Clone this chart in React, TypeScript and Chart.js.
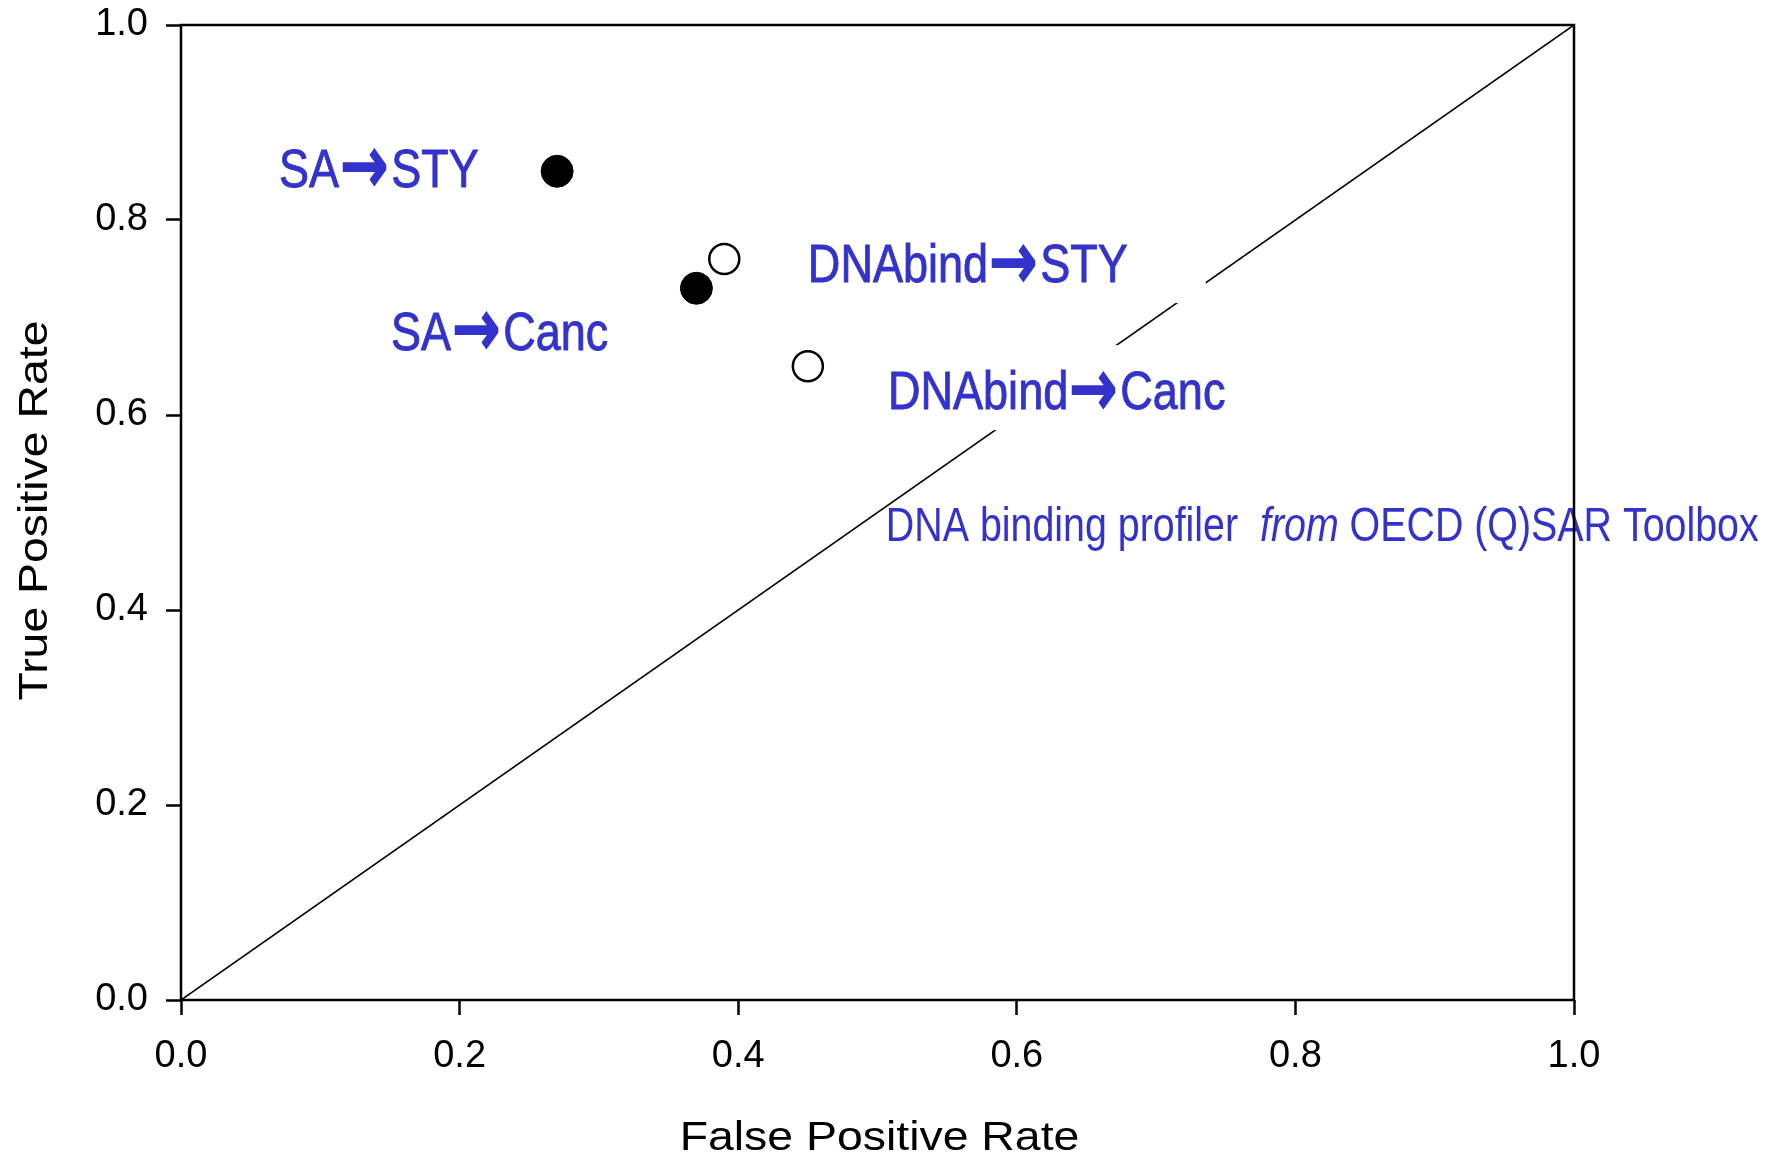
import React, { useEffect, useRef } from "react";
import { Chart, registerables } from "chart.js";

Chart.register(...registerables);

// ---- data ----
const filledFPR = [0.27, 0.37];
const filledTPR = [0.85, 0.73];
const openFPR = [0.39, 0.45];
const openTPR = [0.76, 0.65];
const diagonalX = [0, 1];
const diagonalY = [0, 1];
const tickValues = [0, 0.2, 0.4, 0.6, 0.8, 1.0];

const labelTexts = ["SA→STY", "SA→Canc", "DNAbind→STY", "DNAbind→Canc"];
const labelX = [0.0704, 0.1508, 0.45, 0.5075];
const labelY = [0.834, 0.667, 0.7364, 0.606];
const labelBoxed = [false, false, true, true];

const noteParts = ["DNA binding profiler  ", "from", " OECD (Q)SAR Toolbox"];
const noteItalic = [false, true, false];
const noteX = 0.506;
const noteY = 0.4708;

const xTitle = "False Positive Rate";
const yTitle = "True Positive Rate";

// ---- styles ----
const BLUE = "rgb(51,51,204)";
const SANS = '"Liberation Sans", Arial, sans-serif';
const LABEL_SIZE = 53;
const LABEL_SX = 0.85;
const CAP_H = 38;
const ARROW_W = 44;
const NOTE_SIZE = 48;
const NOTE_SX = 0.82;
const TITLE_SIZE = 40;
const TITLE_SX = 1.16;

function drawArrow(ctx: CanvasRenderingContext2D, x: number, baseline: number) {
  ctx.save();
  ctx.font = `100px "DejaVu Sans", sans-serif`;
  ctx.textAlign = "left";
  ctx.textBaseline = "alphabetic";
  ctx.fillStyle = BLUE;
  ctx.strokeStyle = BLUE;
  ctx.lineJoin = "miter";
  const m = ctx.measureText("→");
  const gw = m.actualBoundingBoxLeft + m.actualBoundingBoxRight;
  const gh = m.actualBoundingBoxAscent + m.actualBoundingBoxDescent;
  const pad = 2;
  ctx.translate(x, baseline - CAP_H);
  ctx.scale(ARROW_W / (gw + 2 * pad), CAP_H / (gh + 2 * pad));
  ctx.lineWidth = 4;
  ctx.fillText("→", m.actualBoundingBoxLeft + pad, m.actualBoundingBoxAscent + pad);
  ctx.strokeText("→", m.actualBoundingBoxLeft + pad, m.actualBoundingBoxAscent + pad);
  ctx.restore();
}

function drawLabel(ctx: CanvasRenderingContext2D, x: number, baseline: number, text: string, paint: boolean) {
  const parts = text.split("→");
  let cx = x;
  parts.forEach((p, i) => {
    if (i > 0) {
      if (paint) drawArrow(ctx, cx + 3, baseline);
      cx += 3 + ARROW_W + 5;
    }
    ctx.save();
    ctx.font = `${LABEL_SIZE}px ${SANS}`;
    ctx.textAlign = "left";
    ctx.textBaseline = "alphabetic";
    ctx.fillStyle = BLUE;
    ctx.strokeStyle = BLUE;
    ctx.lineWidth = 0.9;
    const w = ctx.measureText(p).width * LABEL_SX;
    if (paint) {
      ctx.translate(cx, baseline);
      ctx.scale(LABEL_SX, 1);
      ctx.fillText(p, 0, 0);
      ctx.strokeText(p, 0, 0);
    }
    ctx.restore();
    cx += w;
  });
  return cx;
}

const annotationPlugin = {
  id: "rocAnnotations",
  afterDatasetsDraw(chart: any) {
    const ctx: CanvasRenderingContext2D = chart.ctx;
    const xs = chart.scales.x;
    const ys = chart.scales.y;
    const area = chart.chartArea;

    labelTexts.forEach((t, i) => {
      const px = xs.getPixelForValue(labelX[i]);
      const py = ys.getPixelForValue(labelY[i]);
      if (labelBoxed[i]) {
        const end = drawLabel(ctx, px, py, t, false);
        ctx.save();
        ctx.fillStyle = "#fff";
        ctx.fillRect(px - 10, py - 64, end - px + 88, 85);
        ctx.restore();
      }
      drawLabel(ctx, px, py, t, true);
    });

    let nx = xs.getPixelForValue(noteX);
    const ny = ys.getPixelForValue(noteY);
    noteParts.forEach((p, i) => {
      ctx.save();
      ctx.font = `${noteItalic[i] ? "italic " : ""}${NOTE_SIZE}px ${SANS}`;
      ctx.fillStyle = BLUE;
      ctx.textAlign = "left";
      ctx.textBaseline = "alphabetic";
      const w = ctx.measureText(p).width * NOTE_SX;
      ctx.translate(nx, ny);
      ctx.scale(NOTE_SX, 1);
      ctx.fillText(p, 0, 0);
      ctx.restore();
      nx += w;
    });

    ctx.save();
    ctx.strokeStyle = "#000";
    ctx.lineWidth = 2.5;
    ctx.strokeRect(area.left, area.top, area.right - area.left, area.bottom - area.top);
    ctx.restore();

    ctx.save();
    ctx.font = `${TITLE_SIZE}px ${SANS}`;
    ctx.fillStyle = "#000";
    ctx.textAlign = "left";
    ctx.textBaseline = "alphabetic";
    const wx = ctx.measureText(xTitle).width * TITLE_SX;
    const cxm = (area.left + area.right) / 2 + 2;
    ctx.translate(cxm - wx / 2, chart.height - 7);
    ctx.scale(TITLE_SX, 1);
    ctx.fillText(xTitle, 0, 0);
    ctx.restore();

    ctx.save();
    ctx.font = `${TITLE_SIZE}px ${SANS}`;
    ctx.fillStyle = "#000";
    ctx.textAlign = "left";
    ctx.textBaseline = "alphabetic";
    const wy = ctx.measureText(yTitle).width * TITLE_SX;
    const cym = (area.top + area.bottom) / 2 - 2;
    ctx.translate(46.7, cym + wy / 2);
    ctx.rotate(-Math.PI / 2);
    ctx.scale(TITLE_SX, 1);
    ctx.fillText(yTitle, 0, 0);
    ctx.restore();
  },
};

export default function App() {
  const canvasRef = useRef<HTMLCanvasElement | null>(null);

  useEffect(() => {
    if (!canvasRef.current) return;
    Chart.defaults.font.family = SANS;
    const tickFont = { size: 38, family: SANS };
    const chart = new Chart(canvasRef.current, {
      type: "scatter",
      data: {
        datasets: [
          {
            label: "diagonal",
            data: diagonalX.map((x, i) => ({ x, y: diagonalY[i] })),
            showLine: true,
            borderColor: "#000",
            borderWidth: 1.6,
            pointRadius: 0,
            fill: false,
            order: 3,
          },
          {
            label: "SA",
            data: filledFPR.map((x, i) => ({ x, y: filledTPR[i] })),
            pointRadius: 16,
            backgroundColor: "#000",
            borderColor: "#000",
            borderWidth: 1,
            order: 1,
          },
          {
            label: "DNAbind",
            data: openFPR.map((x, i) => ({ x, y: openTPR[i] })),
            pointRadius: 15,
            backgroundColor: "#fff",
            borderColor: "#000",
            borderWidth: 2.5,
            order: 2,
          },
        ],
      } as any,
      options: {
        animation: false,
        responsive: true,
        maintainAspectRatio: false,
        layout: { padding: { top: 25, right: 199, left: 0, bottom: 0 } },
        plugins: { legend: { display: false }, tooltip: { enabled: false } },
        scales: {
          x: {
            type: "linear",
            min: 0,
            max: 1,
            afterBuildTicks: (s: any) => {
              s.ticks = tickValues.map((v) => ({ value: v }));
            },
            afterFit: (s: any) => {
              s.height = 157;
              s.paddingLeft = 0;
              s.paddingRight = 0;
              s.paddingTop = 0;
              s.paddingBottom = 0;
            },
            ticks: {
              callback: (v: any) => Number(v).toFixed(1),
              font: tickFont,
              color: "#000",
              padding: 19,
              maxRotation: 0,
              autoSkip: false,
            },
            grid: {
              drawOnChartArea: false,
              drawTicks: true,
              tickLength: 15,
              tickWidth: 2.5,
              tickColor: "#000",
            },
            border: { display: false },
          },
          y: {
            type: "linear",
            min: 0,
            max: 1,
            afterBuildTicks: (s: any) => {
              s.ticks = tickValues.map((v) => ({ value: v }));
            },
            afterFit: (s: any) => {
              s.width = 181;
              s.paddingLeft = 0;
              s.paddingRight = 0;
              s.paddingTop = 0;
              s.paddingBottom = 0;
            },
            ticks: {
              callback: (v: any) => Number(v).toFixed(1),
              font: tickFont,
              color: "#000",
              padding: 18,
              autoSkip: false,
            },
            grid: {
              drawOnChartArea: false,
              drawTicks: true,
              tickLength: 15,
              tickWidth: 2.5,
              tickColor: "#000",
            },
            border: { display: false },
          },
        },
      } as any,
      plugins: [annotationPlugin],
    });
    return () => chart.destroy();
  }, []);

  return (
    <div style={{ position: "absolute", left: 0, top: 0, width: 1773, height: 1157, background: "#fff" }}>
      <canvas ref={canvasRef} />
    </div>
  );
}
